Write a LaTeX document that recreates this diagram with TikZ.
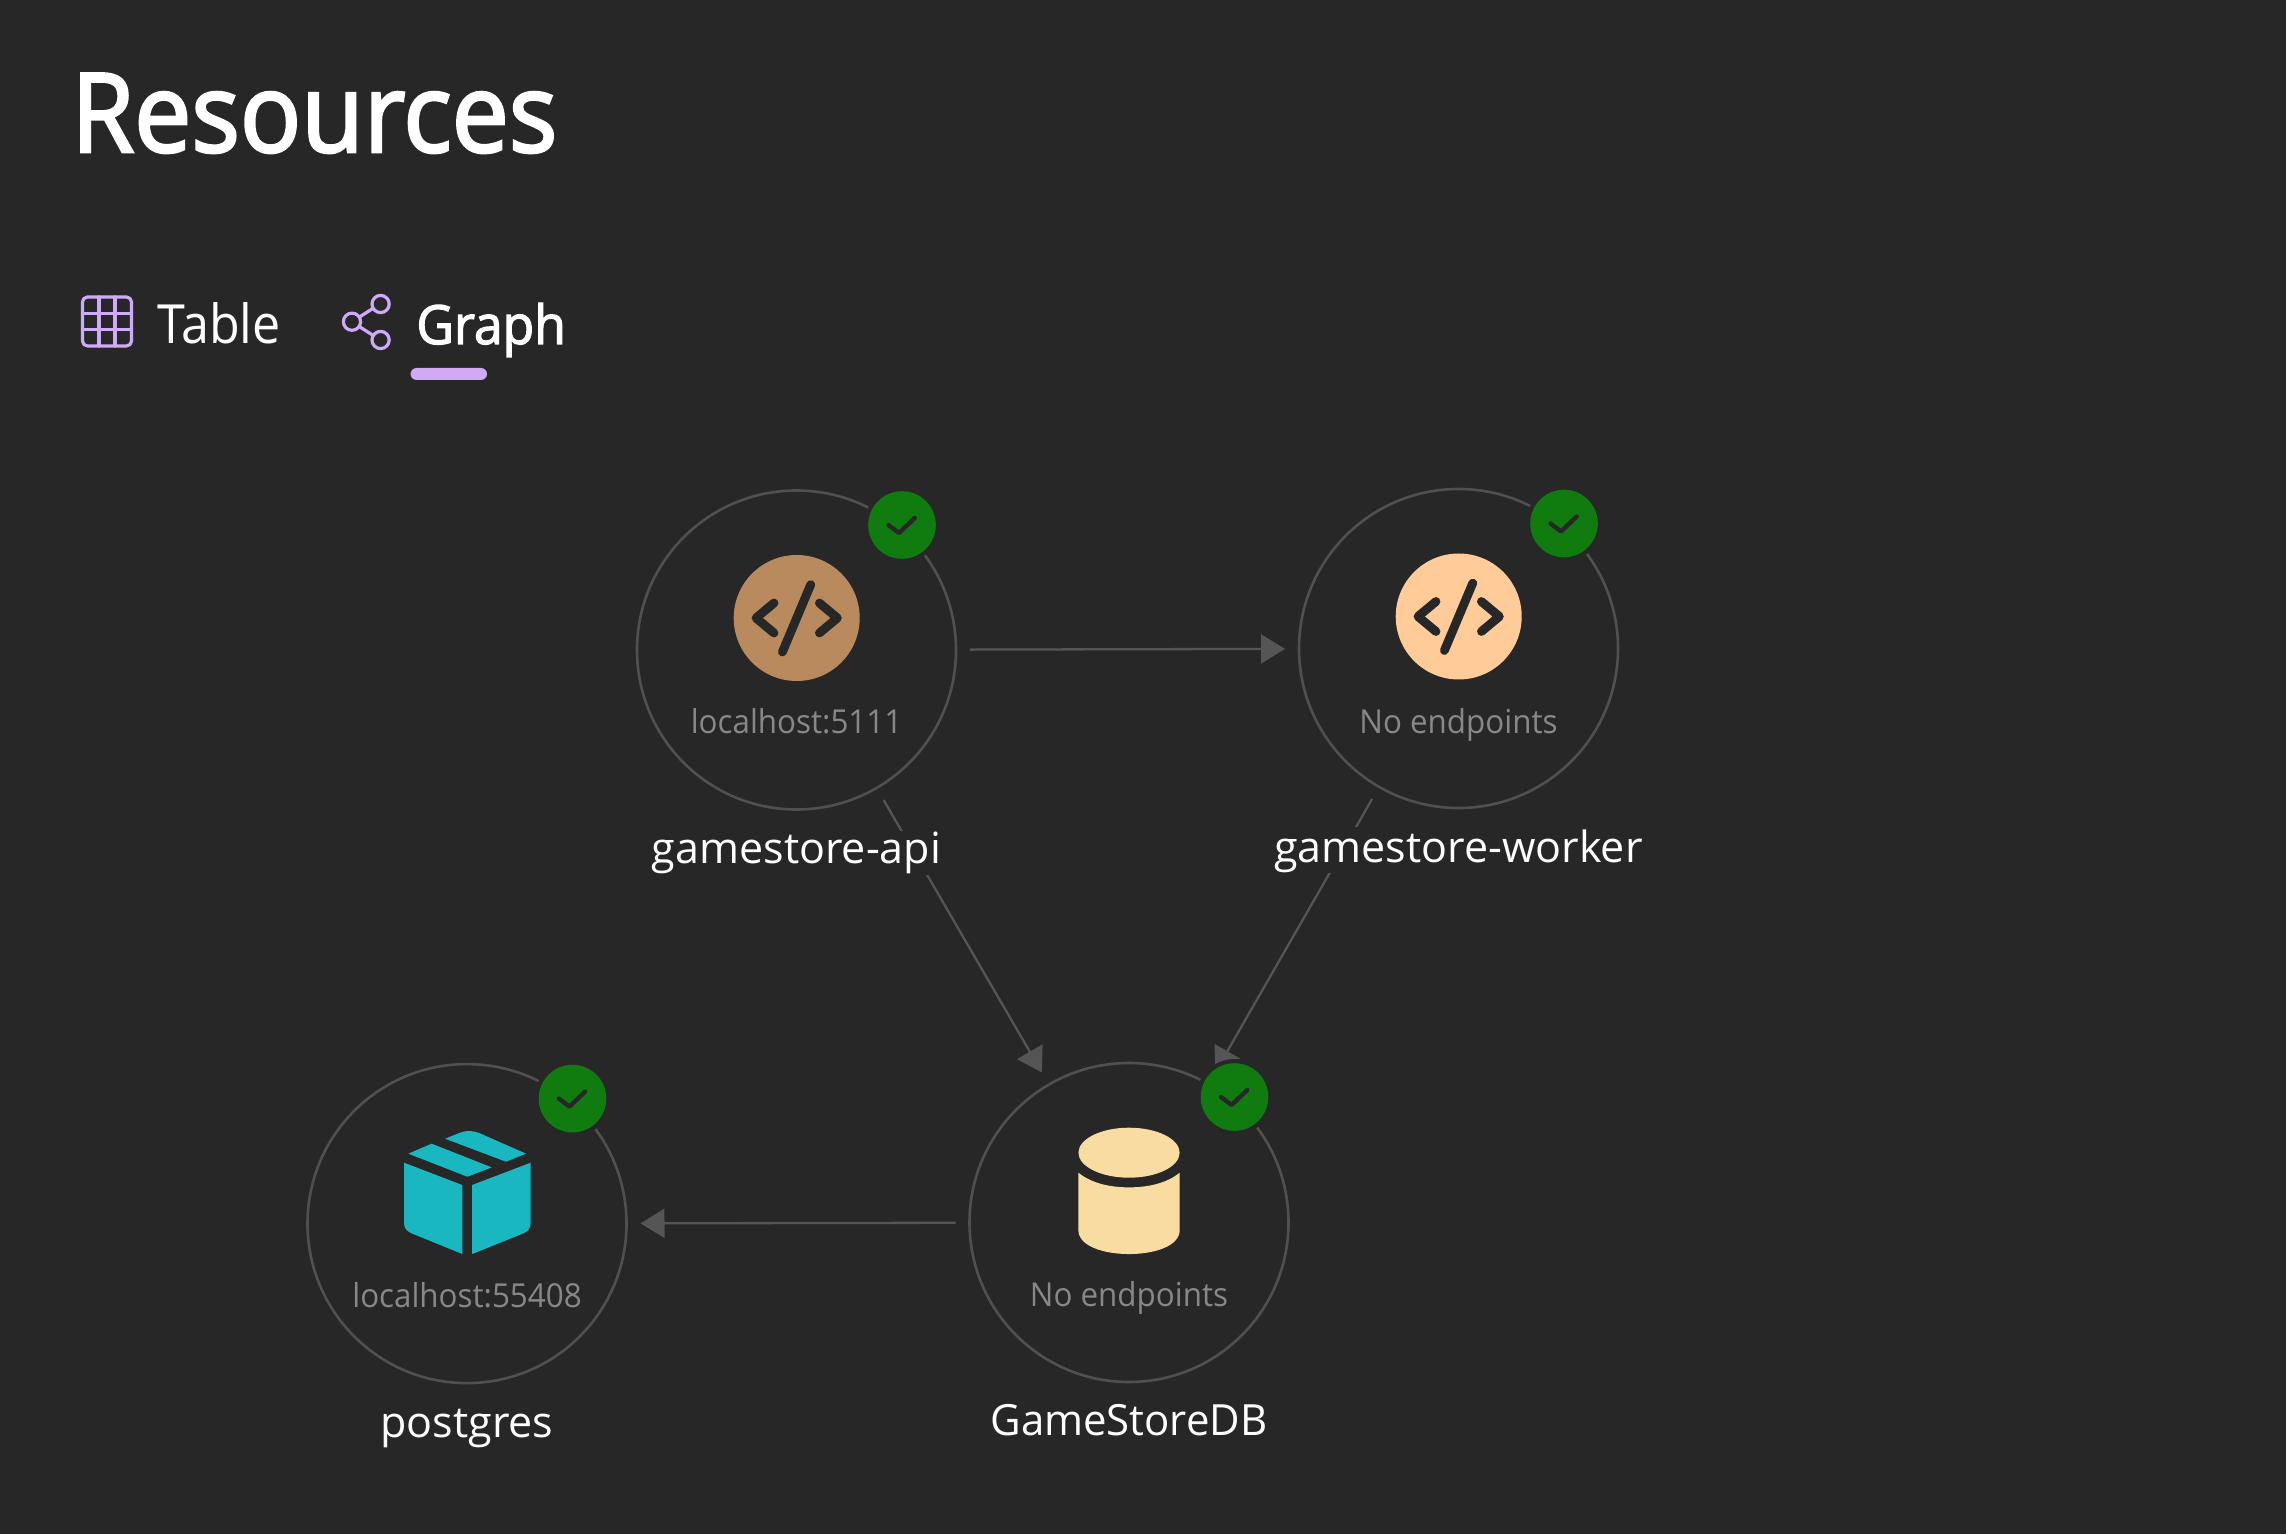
\documentclass[tikz,border=0pt]{standalone}
\usepackage{fontspec}
\setmainfont{Open Sans}
\newfontfamily\titlefont{Open Sans}[FakeBold=2.4,FakeStretch=0.925]
\newfontfamily\semifont{Open Sans}[FakeBold=2.2,FakeStretch=0.955]
\newfontfamily\tabfont{Open Sans}[FakeStretch=0.93]
\newfontfamily\subfont{Open Sans}[FakeStretch=0.95]
\newfontfamily\dbnamefont{Open Sans}[FakeStretch=0.975]
\usetikzlibrary{arrows.meta,shapes.geometric}
\definecolor{bgc}{HTML}{272727}
\definecolor{ringc}{HTML}{505050}
\definecolor{edgec}{HTML}{555555}
\definecolor{subc}{HTML}{888888}
\definecolor{okc}{HTML}{107C10}
\definecolor{purp}{HTML}{D0A9F9}
\definecolor{apic}{HTML}{B88A5E}
\definecolor{workc}{HTML}{FFCC99}
\definecolor{dbc}{HTML}{F8DCA2}
\definecolor{pkgc}{HTML}{19B8C1}
\tikzset{
  res/.style={circle,draw=ringc,line width=1.3pt,minimum size=159.5pt,inner sep=0pt,outer sep=0pt},
  link/.style={draw=edgec,line width=1.15pt,shorten <=7pt,shorten >=7pt,-{Triangle[length=12pt,width=14.5pt,fill=edgec]}},
  namelbl/.style={anchor=base,text=white,fill=bgc,font=\fontsize{21.5}{25}\selectfont,inner xsep=0pt,inner ysep=0pt,text height=16.25pt,text depth=5.75pt},
  sublbl/.style={anchor=base,text=subc,font=\subfont\fontsize{16.5}{20}\selectfont,inner sep=0pt},
  tablbl/.style={anchor=base west,text=white,inner sep=0pt},
  tick/.style={draw=bgc,line width=2.2pt,line cap=round,line join=round},
  codeglyph/.style={draw=bgc,line width=4.4pt,line cap=round,line join=round},
  tabicon/.style={draw=purp,line width=1.6pt,line cap=round,line join=round}
}
\newcommand{\badge}[2]{%
  \begin{scope}[shift={(#1,#2)}]
    \fill[bgc] (0,0) circle (19pt);
    \fill[okc] (0,0) circle (16.9pt);
    \draw[tick] (-13.5,0) -- (-3,8) -- (12.7,-7);
  \end{scope}}
\newcommand{\codeicon}[3]{%
  \begin{scope}[shift={(#1,#2)}]
    \fill[#3] (0,0) circle (31.5pt);
    \draw[codeglyph] (-22.7,-15) -- (-40.7,0) -- (-22.7,15);
    \draw[codeglyph] (14,-33.3) -- (-14.3,34);
    \draw[codeglyph] (22.7,-15) -- (40.7,0) -- (22.7,15);
  \end{scope}}
\begin{document}
\begin{tikzpicture}[x=0.5pt,y=-0.5pt]
\useasboundingbox[fill=bgc] (0,0) rectangle (2286,1534);
% title and tabs
\node[tablbl,font=\titlefont\fontsize{55}{60}\selectfont] (title) at (71,152) {Resources};
\node[tablbl,font=\tabfont\fontsize{27}{32}\selectfont] (tabtable) at (157,344) {Table};
\node[tablbl,font=\semifont\fontsize{27}{32}\selectfont] (tabgraph) at (416,344) {Graph};
% table icon
\draw[tabicon,rounded corners=2.5pt] (82.5,297) rectangle (131.5,346);
\draw[tabicon] (99,297) -- (99,346) (115,297) -- (115,346) (82.5,313.7) -- (131.5,313.7) (82.5,329.7) -- (131.5,329.7);
% graph icon
\draw[tabicon] (380.6,304) circle (4.3pt) (352,321.7) circle (4.3pt) (380.6,340) circle (4.3pt);
\draw[tabicon] (360,316.7) -- (372,309) (360,327) -- (372,334.7);
\fill[purp,rounded corners=3pt] (410.5,368) rectangle (487,380);
% resource circles
\node[res] (api) at (796.5,650) {};
\node[res] (worker) at (1458.5,648.5) {};
\node[res] (db) at (1129,1222.5) {};
\node[res] (pg) at (467,1223.6) {};
% connectors
\draw[link] (api) -- (worker);
\draw[link] (api) -- (db);
\draw[link] (worker) -- (db);
\draw[link] (db) -- (pg);
% badges
\badge{902}{525}
\badge{1564}{523.5}
\badge{1234.5}{1097}
\badge{572.5}{1098.6}
% icons
\codeicon{796.7}{618}{apic}
\codeicon{1458.7}{616.5}{workc}
\begin{scope}[shift={(960,1040)},x=0.1667pt,y=-0.1667pt]
  \fill[dbc] (507,338) ellipse [x radius=25.3pt,y radius=12.5pt];
  \fill[dbc] (355,398) .. controls (395,430) and (450,442) .. (507,442)
     .. controls (564,442) and (619,430) .. (659,398) -- (659,570)
     .. controls (659,618) and (584,642) .. (507,642)
     .. controls (430,642) and (355,618) .. (355,570) -- cycle;
\end{scope}
\begin{scope}[shift={(290,1050)},x=0.1667pt,y=-0.1667pt]
  \fill[pkgc] (342,338) -- (517,405) -- (517,612) -- (365,550) .. controls (350,543) and (342,535) .. (342,518) -- cycle;
  \fill[pkgc] (722,338) -- (546,405) -- (546,612) -- (700,550) .. controls (714,543) and (722,535) .. (722,518) -- cycle;
  \fill[pkgc] (355,311) -- (425,281) -- (605,352) -- (532,380) -- cycle;
  \fill[pkgc] (465,266) -- (510,248) .. controls (530,240) and (550,242) .. (570,250) -- (708,311) -- (648,335) -- cycle;
\end{scope}
% endpoint texts
\node[sublbl] (apisub) at (796.5,733) {localhost:5111};
\node[sublbl] (worksub) at (1458.5,733) {No endpoints};
\node[sublbl] (dbsub) at (1129,1306) {No endpoints};
\node[sublbl] (pgsub) at (467,1307.6) {localhost:55408};
% names
\node[namelbl] (apiname) at (796.5,863.5) {gamestore-api};
\node[namelbl,text height=17.5pt,text depth=5.5pt] (workname) at (1458.5,862) {gamestore-worker};
\node[namelbl,font=\dbnamefont\fontsize{21.5}{25}\selectfont] (dbname) at (1129,1435) {GameStoreDB};
\node[namelbl] (pgname) at (467,1437) {postgres};
\end{tikzpicture}
\end{document}
